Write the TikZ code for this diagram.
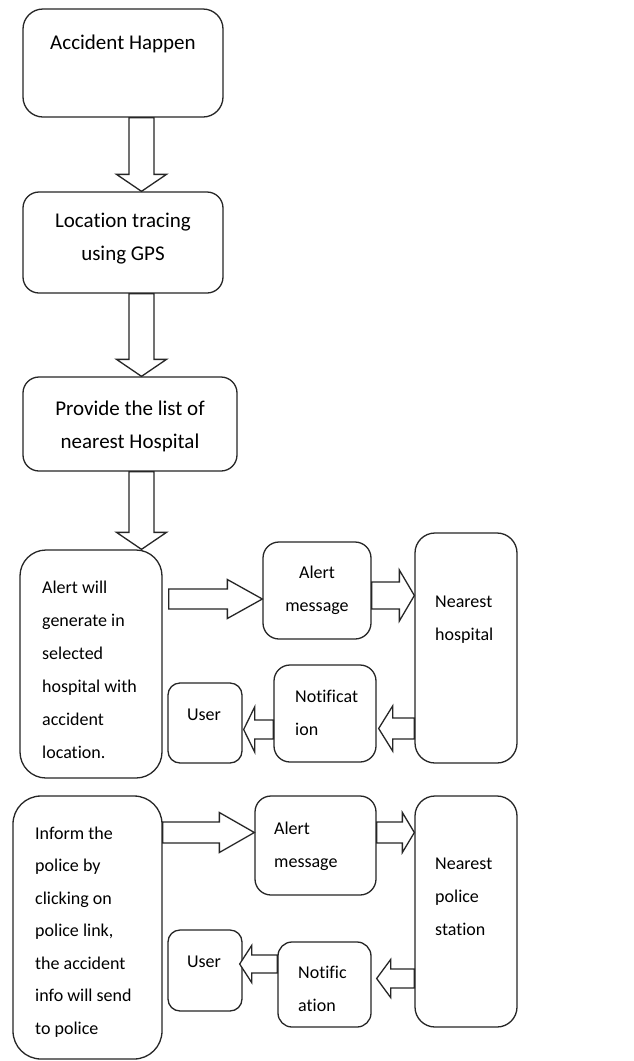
\documentclass[tikz,border=0pt]{standalone}
\usepackage{fontspec}
\setmainfont[Ligatures=NoCommon]{Carlito}
\usetikzlibrary{calc}
\newcommand\mlL[1]{\begin{tabular}[t]{@{}l@{}}#1\end{tabular}}
\newcommand\mlC[1]{\begin{tabular}[t]{@{}c@{}}#1\end{tabular}}
% vertical block arrow: from, to, x centre
\newcommand\vblk[3]{%
\draw[blk] let \p1=(#1.south), \p2=(#2.north) in
 ({#3pt-12.5pt},{\y1}) -- ({#3pt+12.5pt},{\y1}) -- ({#3pt+12.5pt},{\y2+17pt}) -- ({#3pt+25pt},{\y2+17pt}) -- ({#3pt},{\y2}) -- ({#3pt-25pt},{\y2+17pt}) -- ({#3pt-12.5pt},{\y2+17pt}) -- cycle;}
% right block arrow: from, to, ycentre, shaft half, head half, head length, start offset, tip offset
\newcommand\rblk[8]{%
\draw[blk] let \p1=(#1.east), \p2=(#2.west) in
 ({\x1+#7pt},{-#3pt+#4pt}) -- ({\x2+#8pt-#6pt},{-#3pt+#4pt}) -- ({\x2+#8pt-#6pt},{-#3pt+#5pt}) -- ({\x2+#8pt},{-#3pt}) -- ({\x2+#8pt-#6pt},{-#3pt-#5pt}) -- ({\x2+#8pt-#6pt},{-#3pt-#4pt}) -- ({\x1+#7pt},{-#3pt-#4pt}) -- cycle;}
% left block arrow
\newcommand\lblk[8]{%
\draw[blk] let \p1=(#1.west), \p2=(#2.east) in
 ({\x1-#7pt},{-#3pt+#4pt}) -- ({\x2+#8pt+#6pt},{-#3pt+#4pt}) -- ({\x2+#8pt+#6pt},{-#3pt+#5pt}) -- ({\x2+#8pt},{-#3pt}) -- ({\x2+#8pt+#6pt},{-#3pt-#5pt}) -- ({\x2+#8pt+#6pt},{-#3pt-#4pt}) -- ({\x1-#7pt},{-#3pt-#4pt}) -- cycle;}
\begin{document}
\begin{tikzpicture}[x=1pt,y=-1pt,
  box/.style={draw=black!85, line width=1.3pt, rounded corners=#1, inner sep=0pt},
  box/.default=16pt,
  blk/.style={draw=black!85, line width=1.3pt, fill=white, line join=miter},
  big/.style={inner sep=0pt, font=\fontsize{21}{33}\selectfont},
  sml/.style={inner sep=0pt, font=\fontsize{18}{33}\selectfont}]
\useasboundingbox[fill=white] (0,0) rectangle (633,1061);
% boxes
\node[box=20pt, minimum width=200pt, minimum height=108pt] (acc) at (123,63) {};
\node[box=16pt, minimum width=200pt, minimum height=101pt] (loc) at (123,242.5) {};
\node[box=16pt, minimum width=214pt, minimum height=94pt] (lst) at (130,424) {};
\node[box=26pt, minimum width=142pt, minimum height=228pt] (al) at (91,664) {};
\node[box=16pt, minimum width=108pt, minimum height=97pt] (am1) at (317,590.5) {};
\node[box=20pt, minimum width=102pt, minimum height=230pt] (nh) at (466,648) {};
\node[box=16pt, minimum width=102pt, minimum height=97pt] (nt1) at (325,713.5) {};
\node[box=12pt, minimum width=74pt, minimum height=80pt] (us1) at (205,723) {};
\node[box=28pt, minimum width=149pt, minimum height=263pt] (inf) at (87.5,927.5) {};
\node[box=16pt, minimum width=121pt, minimum height=99pt] (am2) at (315.5,845.5) {};
\node[box=20pt, minimum width=102pt, minimum height=231pt] (ps) at (466,911.5) {};
\node[box=14pt, minimum width=93pt, minimum height=85pt] (nt2) at (324.5,984.5) {};
\node[box=12pt, minimum width=74pt, minimum height=81pt] (us2) at (205,970.5) {};
% texts
\node[big, anchor=base] (t1) at (123,49) {Accident Happen};
\node[big, anchor=base] (t2) at (123,227) {\mlC{Location tracing\\using GPS}};
\node[big, anchor=base] (t3) at (130,415) {\mlC{Provide the list of\\nearest Hospital}};
\node[sml, anchor=base west] (t4) at (42,593) {\mlL{Alert will\\generate in\\selected\\hospital with\\accident\\location.}};
\node[sml, anchor=base] (t5) at (317,578) {\mlC{Alert\\message}};
\node[sml, anchor=base west] (t6) at (435,607) {\mlL{Nearest\\hospital}};
\node[sml, anchor=base west] (t7) at (295,702) {\mlL{Notificat\\ion}};
\node[sml, anchor=base] (t8) at (204,720) {User};
\node[sml, anchor=base west, font=\fontsize{18}{32.5}\selectfont] (t9) at (35,839) {\mlL{Inform the\\police by\\clicking on\\police link,\\the accident\\info will send\\to police}};
\node[sml, anchor=base west] (t10) at (274,834) {\mlL{Alert\\message}};
\node[sml, anchor=base west] (t11) at (435,869) {\mlL{Nearest\\police\\station}};
\node[sml, anchor=base west] (t12) at (298,978) {\mlL{Notific\\ation}};
\node[sml, anchor=base] (t13) at (204,967) {User};
% arrows
\vblk{acc}{loc}{141.5}
\vblk{loc}{lst}{141.5}
\vblk{lst}{al}{141.5}
\rblk{al}{am1}{599}{10}{19.5}{35}{6}{0}
\rblk{am1}{nh}{595.5}{13.5}{25.5}{15}{0}{0}
\lblk{nh}{nt1}{728.5}{10.5}{22.5}{14}{0}{2}
\lblk{nt1}{us1}{729.5}{9.5}{22.5}{11}{0}{1}
\rblk{inf}{am2}{832.5}{10.5}{20}{35}{0}{0}
\rblk{am2}{ps}{832.5}{10.5}{20}{12}{0}{0}
\lblk{ps}{nt2}{978.5}{9.5}{19}{14}{0}{5}
\lblk{nt2}{us2}{964}{9}{18.5}{12}{0}{-3}
\end{tikzpicture}
\end{document}
